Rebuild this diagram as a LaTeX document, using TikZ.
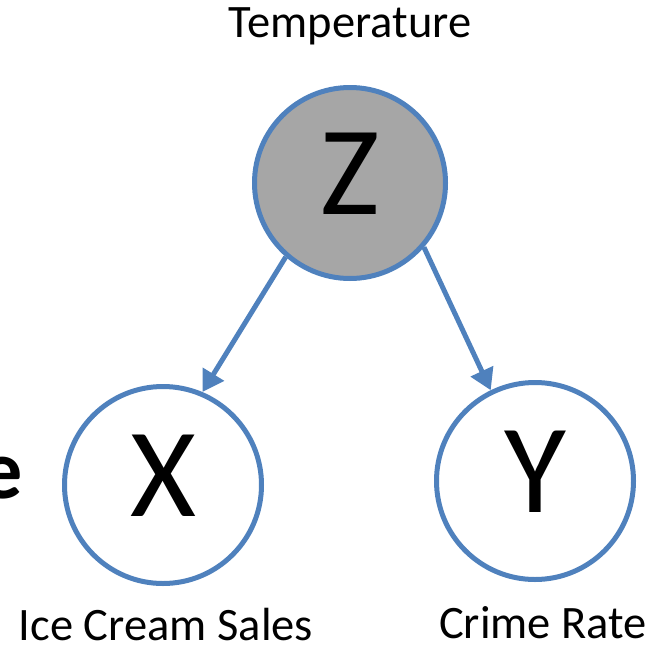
\documentclass[tikz,border=0pt]{standalone}
\usepackage{fontspec}
\setmainfont{Carlito}
\usepackage{tikz}
\usetikzlibrary{positioning,arrows.meta}
\definecolor{nodeblue}{RGB}{79,129,189}
\definecolor{latentgray}{RGB}{166,166,166}

\tikzset{
  var/.style={circle, draw=nodeblue, line width=5pt, fill=white,
    minimum size=197pt, inner sep=0pt, text depth=18pt,
    font=\fontsize{127}{130}\selectfont},
  caption/.style={anchor=base, inner sep=0pt,
    font=\fontsize{46.5}{50}\selectfont},
  edge/.style={draw=nodeblue, line width=5pt,
    -{Triangle[length=21pt,width=24pt]}}
}

\begin{document}
\begin{tikzpicture}[x=1pt,y=-1pt]
  \useasboundingbox (0,0) rectangle (658,645);

  % Variables
  \node[var, fill=latentgray, minimum size=191pt] (Z) at (350,183) {Z};
  \node[var] (X) at (163,485) {X};
  \node[var] (Y) at (535,481) {Y};

  % Names of the variables
  \node[caption] (tempLabel) at (350,37) {Temperature};
  \node[caption] (xLabel) at (166,640) {Ice Cream Sales};
  \node[caption] (yLabel) at (543,638) {Crime Rate};

  % Cut-off word at the left edge
  \node[anchor=base east, inner sep=0pt,
    font=\fontsize{84}{90}\selectfont\bfseries] (leftWord) at (23,498) {e};

  % Causal edges
  \draw[edge] (Z.229) -- (X.67);
  \draw[edge] (Z.319) -- (Y.116);
\end{tikzpicture}
\end{document}
